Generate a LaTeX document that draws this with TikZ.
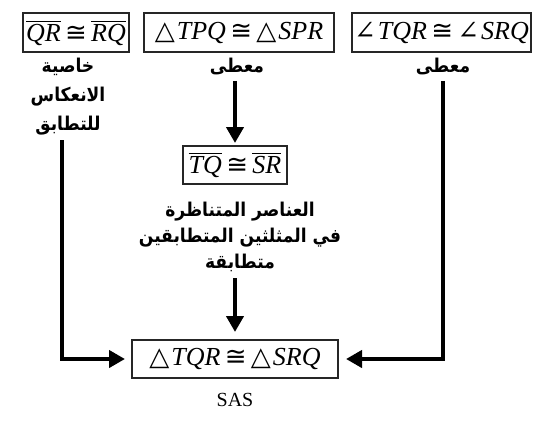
\documentclass[tikz,border=0pt]{standalone}
\usepackage{fontspec}
\setmainfont{Liberation Serif}
\newfontfamily\arabicfont[Script=Arabic]{DejaVu Sans Condensed}
\newfontfamily\symbfont{DejaVu Serif}
\newfontfamily\relfont{DejaVu Sans}
\usetikzlibrary{arrows.meta}
\TeXXeTstate=1
\newcommand{\arabtxt}[1]{\beginR #1\endR}
\newcommand{\segm}[1]{$\overline{\mbox{\itshape #1}}$}
\newcommand{\congr}{\,{\relfont ≅}\,}
\newcommand{\tri}{{\symbfont △}\kern1pt}
\newcommand{\angl}{{\symbfont ∠}\kern1pt}

\begin{document}
\begin{tikzpicture}[
            x=0.5pt, y=-0.5pt,
            every node/.style={align=center, inner sep=0pt}
        ]
        
        % Define styles for nodes
        \tikzset{
            stmt/.style={rectangle, draw=black!85, line width=1pt, minimum height=19.5pt, font=\fontsize{13}{15}\selectfont},
            reason/.style={font=\arabicfont\bfseries\fontsize{9.5}{14.5}\selectfont},
            flow/.style={line width=2pt, -{Triangle[length=8pt,width=8.5pt]}}
        }
        \useasboundingbox (0,0) rectangle (546,434);
        
        % Top row: statements
        \node[stmt, minimum width=53pt] (refl) at (76,32.5) {\segm{QR}\congr\segm{RQ}};
        \node[stmt, minimum width=95pt] (tpq) at (239,32.5) {\tri\textit{TPQ}\congr\tri\textit{SPR}};
        \node[stmt, minimum width=89.5pt] (ang) at (441.5,32.5) {\angl\textit{TQR}\congr\angl\textit{SRQ}};
        
        % Reasons
        \node[reason] (reflR) at (68,97) {\arabtxt{خاصية}\\\arabtxt{الانعكاس}\\\arabtxt{للتطابق}};
        \node[reason] (tpqR) at (237,66) {\arabtxt{معطى}};
        \node[reason] (angR) at (443,66) {\arabtxt{معطى}};
        
        % Middle: corresponding parts
        \node[stmt, minimum width=52pt, minimum height=19pt] (seg) at (235,165) {\segm{TQ}\congr\segm{SR}};
        \node[reason, font=\arabicfont\bfseries\fontsize{9.5}{13}\selectfont] (segR) at (240,237) {\arabtxt{العناصر المتناظرة}\\\arabtxt{في المثلثين المتطابقين}\\\arabtxt{متطابقة}};
        
        % Conclusion
        \node[stmt, minimum width=103pt, minimum height=19pt] (sas) at (235,359) {\tri\textit{TQR}\congr\tri\textit{SRQ}};
        \node[font=\fontsize{10}{12}\selectfont] (sasR) at (235,400) {SAS};
        
        % Connectors
        \coordinate (lft) at (62,140);
        \draw[flow, shorten >=1pt] (tpqR.south -| seg) ++(0,6) -- (seg.north);
        \draw[flow, shorten >=3.5pt] (segR.south -| sas) ++(0,6) -- (sas.north);
        \draw[flow, shorten >=3pt] (lft) |- (sas.west);
        \draw[flow, shorten >=3.5pt] (angR.south) ++(0,6) |- (sas.east);
        
        \end{tikzpicture}
\end{document}
